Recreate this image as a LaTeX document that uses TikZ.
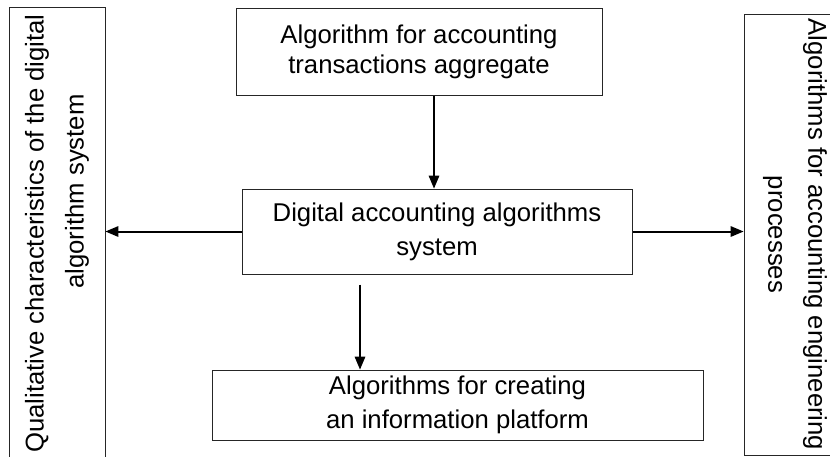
\documentclass[tikz,border=0pt]{standalone}
\usepackage{fontspec}
\setmainfont{Liberation Sans}
\usepackage{tikz}
\usetikzlibrary{arrows}
\tikzset{
	box node/.style={rectangle,draw=black!85,line width=1pt,align=center,inner sep=0pt,
		font=\fontsize{25.7}{30}\selectfont},
	side node/.style={box node,font=\fontsize{25.7}{40}\selectfont}
}

\begin{document}
\begin{tikzpicture}[x=1pt,y=1pt,->,>=triangle 45]
      \clip (0,0) rectangle (830,-456);
      \useasboundingbox (0,0) rectangle (830,-456);

      \node[box node,minimum width=366pt,minimum height=87pt] (1) at (419,-51.5) {Algorithm for accounting\\transactions aggregate};
      \node[box node,minimum width=390pt,minimum height=85pt,font=\fontsize{25.7}{34}\selectfont] (2) at (437,-231.5) {Digital accounting algorithms\\system};
      \node[side node,rotate=90,minimum width=453pt,minimum height=96pt] (3) at (57,-233.5) {Qualitative characteristics of the digital\\\hspace*{84pt}algorithm system};
      \node[side node,rotate=-90,minimum width=441pt,minimum height=102pt] (4) at (795,-234.5) {Algorithms for accounting engineering\\processes};
      \node[box node,minimum width=491pt,minimum height=70pt,font=\fontsize{25.7}{34}\selectfont] (5) at (457.5,-405) {Algorithms for creating\\an information platform};

      \path[line width=2pt]
        ([xshift=15pt]1.south) edge ([xshift=15pt]1.south |- 2.north)
        (2.west) edge (2.west -| 3.south)
        (2.east) edge (2.east -| 4.south)
        ([xshift=-77pt,yshift=-10pt]2.south) edge ([xshift=-77pt]2.south |- 5.north);
\end{tikzpicture}
\end{document}
